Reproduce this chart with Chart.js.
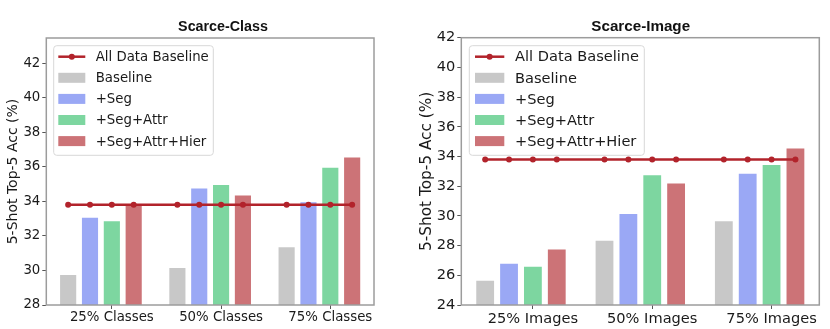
<!DOCTYPE html>
<html>
<head>
<meta charset="utf-8">
<script src="https://cdn.jsdelivr.net/npm/chart.js@4.4.1/dist/chart.umd.min.js"></script>
<style>
  html, body { margin: 0; padding: 0; background: #fff; }
  .panel { position: absolute; top: 0; width: 415px; height: 329px; }
</style>
</head>
<body>
<div class="panel" style="left:0"><canvas id="classChart" width="415" height="329"></canvas></div>
<div class="panel" style="left:415px"><canvas id="imageChart" width="415" height="329"></canvas></div>
<script>
/* ---------------------------------- Data ---------------------------------- */
const lineLabel = "All Data Baseline";
const seriesLabels = ["Baseline", "+Seg", "+Seg+Attr", "+Seg+Attr+Hier"];

const classCategories = ["25% Classes", "50% Classes", "75% Classes"];
const classBaseline = [29.8, 30.2, 31.4];
const classSeg = [33.1, 34.8, 34.0];
const classSegAttr = [32.9, 35.0, 36.0];
const classSegAttrHier = [33.9, 34.4, 36.6];
const classYTicks = [28, 30, 32, 34, 36, 38, 40, 42];

const imageCategories = ["25% Images", "50% Images", "75% Images"];
const imageBaseline = [25.7, 28.4, 29.7];
const imageSeg = [26.85, 30.2, 32.9];
const imageSegAttr = [26.65, 32.8, 33.5];
const imageSegAttrHier = [27.8, 32.25, 34.6];
const imageYTicks = [24, 26, 28, 30, 32, 34, 36, 38, 40, 42];

const allDataBaseline = 33.8;

/* --------------------------------- Styles --------------------------------- */
const barColors = ["#c8c8c8", "#9aa8f5", "#7dd6a0", "#cc7377"];
const lineColor = "#b2232b";
const groupShare = 0.8;
const barStep = groupShare / seriesLabels.length;

/* -------------------------------- Plugins --------------------------------- */
const framePlugin = {
  id: "frame",
  afterDatasetsDraw(chart) {
    const { ctx, chartArea: a } = chart;
    ctx.save();
    ctx.strokeStyle = "#9c9c9c";
    ctx.lineWidth = 1.5;
    ctx.strokeRect(a.left, a.top, a.width, a.height);
    ctx.restore();
  },
};

const titlePlugin = {
  id: "panelTitle",
  afterDraw(chart, args, o) {
    const { ctx } = chart;
    ctx.save();
    ctx.font = `bold ${o.size}px "Liberation Sans", Arial, sans-serif`;
    ctx.fillStyle = "#111";
    ctx.textAlign = "center";
    ctx.textBaseline = "alphabetic";
    ctx.fillText(o.text, o.x, o.y);
    ctx.restore();
  },
};

const legendPlugin = {
  id: "innerLegend",
  afterDraw(chart, args, o) {
    const { ctx } = chart;
    ctx.save();
    ctx.beginPath();
    ctx.roundRect(o.x, o.y, o.w, o.h, 3);
    ctx.fillStyle = "rgba(255,255,255,0.85)";
    ctx.fill();
    ctx.strokeStyle = "#d8d8d8";
    ctx.lineWidth = 1;
    ctx.stroke();

    ctx.font = `${o.size}px "DejaVu Sans", sans-serif`;
    ctx.textBaseline = "middle";
    chart.data.datasets.forEach((ds, i) => {
      const cy = o.rowY + i * o.rowStep;
      if (ds.type === "line") {
        ctx.strokeStyle = ds.borderColor;
        ctx.lineWidth = ds.borderWidth;
        ctx.beginPath();
        ctx.moveTo(o.swX, cy);
        ctx.lineTo(o.swX + o.swW, cy);
        ctx.stroke();
        ctx.fillStyle = ds.borderColor;
        ctx.beginPath();
        ctx.arc(o.swX + o.swW / 2, cy, ds.pointRadius, 0, Math.PI * 2);
        ctx.fill();
      } else {
        ctx.fillStyle = ds.backgroundColor;
        ctx.fillRect(o.swX, cy - 5, o.swW, 10);
      }
      ctx.fillStyle = "#1a1a1a";
      ctx.fillText(ds.label, o.textX, cy + 1);
    });
    ctx.restore();
  },
};

/* --------------------------------- Charts --------------------------------- */
const buildChart = function (canvasId, cfg) {
  const mid = (seriesLabels.length - 1) / 2;
  const lineData = [];
  cfg.categories.forEach((c, i) => {
    seriesLabels.forEach((s, j) => {
      lineData.push({ x: i + (j - mid) * barStep, y: allDataBaseline });
    });
  });
  const tickShift = (2 - mid) * barStep;
  const font = { family: "DejaVu Sans", size: cfg.font };

  return new Chart(document.getElementById(canvasId), {
    type: "bar",
    data: {
      datasets: [
        {
          type: "line",
          label: lineLabel,
          data: lineData,
          borderColor: lineColor,
          backgroundColor: lineColor,
          pointBackgroundColor: lineColor,
          pointBorderWidth: 0,
          borderWidth: 2.5,
          pointRadius: 3,
          order: 0,
        },
        ...cfg.series.map((values, j) => ({
          label: seriesLabels[j],
          data: values.map((v, i) => ({ x: i, y: v })),
          backgroundColor: barColors[j],
          borderColor: "rgba(255,255,255,0.45)",
          borderWidth: 1,
          categoryPercentage: groupShare,
          barPercentage: 0.83,
          order: 1,
        })),
      ],
    },
    options: {
      responsive: false,
      animation: false,
      layout: { padding: cfg.padding },
      plugins: {
        legend: { display: false },
        tooltip: { enabled: false },
        panelTitle: cfg.title,
        innerLegend: cfg.legend,
      },
      scales: {
        x: {
          type: "linear",
          position: "bottom",
          min: -0.5,
          max: 2.5,
          offset: false,
          afterBuildTicks: (axis) => {
            axis.ticks = cfg.categories.map((c, i) => ({ value: i + tickShift }));
          },
          afterFit: (scale) => {
            scale.height = 24;
          },
          ticks: {
            callback: (v, i) => cfg.categories[i],
            font: font,
            color: "#1a1a1a",
            padding: 1,
            autoSkip: false,
            maxRotation: 0,
          },
          grid: { drawOnChartArea: false, tickLength: 4, tickColor: "#555", offset: false },
          border: { display: false },
        },
        y: {
          min: cfg.yMin,
          max: cfg.yMax,
          afterBuildTicks: (axis) => {
            axis.ticks = cfg.yTicks.map((v) => ({ value: v }));
          },
          afterFit: (scale) => {
            scale.width = cfg.axisWidth;
          },
          ticks: { font: font, color: "#1a1a1a", padding: 2 },
          grid: { drawOnChartArea: false, tickLength: 4, tickColor: "#555" },
          border: { display: false },
          title: {
            display: true,
            text: "5-Shot Top-5 Acc (%)",
            color: "#1a1a1a",
            font: { family: "DejaVu Sans", size: cfg.labelFont },
            padding: { top: cfg.labelPad, bottom: 0 },
          },
        },
      },
    },
    plugins: [framePlugin, titlePlugin, legendPlugin],
  });
};

buildChart("classChart", {
  categories: classCategories,
  series: [classBaseline, classSeg, classSegAttr, classSegAttrHier],
  yMin: 28,
  yMax: 43.45,
  yTicks: classYTicks,
  font: 13.3,
  labelFont: 14,
  labelPad: 5,
  axisWidth: 46.3,
  padding: { top: 38, right: 41, bottom: 0, left: 0 },
  title: { text: "Scarce-Class", x: 223, y: 30.7, size: 14.3 },
  legend: { x: 53.7, y: 45.7, w: 159.6, h: 109.6, swX: 58.3, swW: 27, textX: 95.7, rowY: 56.7, rowStep: 21.1, size: 13.3 },
});

buildChart("imageChart", {
  categories: imageCategories,
  series: [imageBaseline, imageSeg, imageSegAttr, imageSegAttrHier],
  yMin: 24,
  yMax: 42,
  yTicks: imageYTicks,
  font: 14.6,
  labelFont: 15.3,
  labelPad: 2.5,
  axisWidth: 46.3,
  padding: { top: 37.7, right: 10.7, bottom: 0, left: 0 },
  title: { text: "Scarce-Image", x: 225.7, y: 30.7, size: 15.2 },
  legend: { x: 54.3, y: 45.7, w: 175, h: 109.6, swX: 60, swW: 29.3, textX: 100, rowY: 56.7, rowStep: 21.1, size: 14.6 },
});
</script>
</body>
</html>
